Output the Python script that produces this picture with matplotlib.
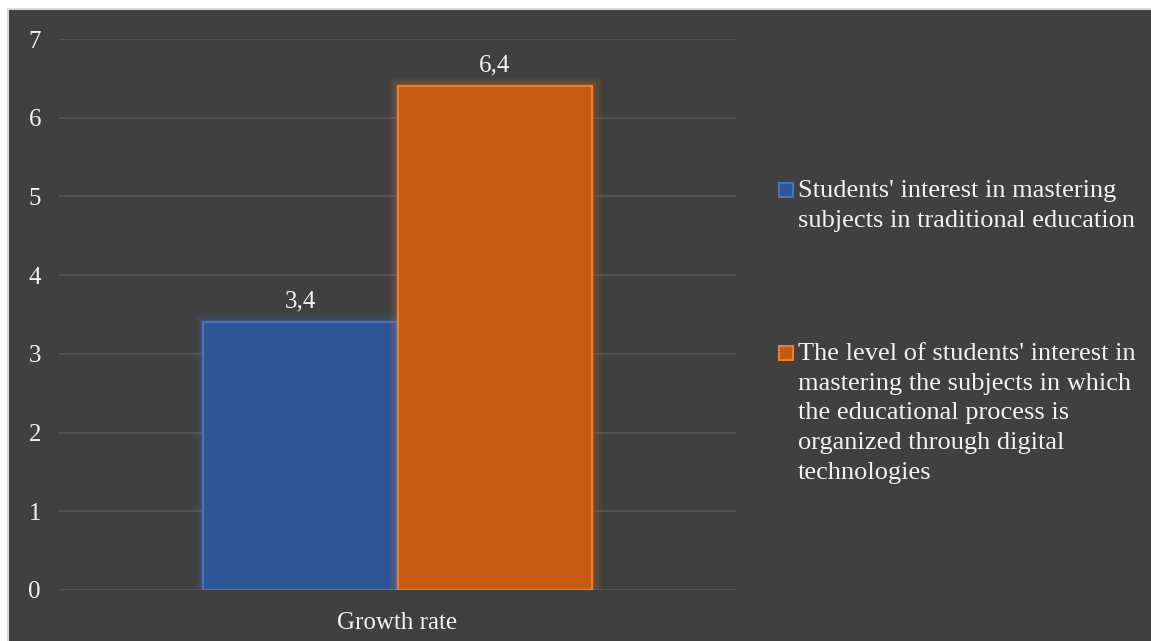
import matplotlib.pyplot as plt
import matplotlib.patheffects as pe
from matplotlib.patches import Rectangle

plt.rcParams['font.family'] = ['Liberation Serif', 'DejaVu Serif']

categories = ['Growth rate']
series_names = ["Students' interest in mastering\nsubjects in traditional education",
                "The level of students' interest in\nmastering the subjects in which\n"
                "the educational process is\norganized through digital\ntechnologies"]
values = [3.4, 6.4]
face_colors = ['#2F5597', '#C55A11']
edge_colors = ['#4472C4', '#ED7D31']

W, H = 1151, 641
fig = plt.figure(figsize=(W / 100, H / 100), dpi=100, facecolor='white')

# dark chart area with thin grey border
fig.patches.append(Rectangle((8 / W, -0.01), 1, (H - 9) / H + 0.01, transform=fig.transFigure,
                             facecolor='#404040', edgecolor='#D9D9D9', linewidth=1.5, zorder=-5))

ax = fig.add_axes([59 / W, (H - 590) / H, (736 - 59) / W, (590 - 39) / H])
ax.set_facecolor('none')

bar_w = 0.287
offsets = [-bar_w / 2, bar_w / 2]
for i, v in enumerate(values):
    b = ax.bar(0 + offsets[i], v, width=bar_w, color=face_colors[i], edgecolor=edge_colors[i],
               linewidth=1.5, zorder=3)
    # soft glow around the bars
    glow = [pe.withStroke(linewidth=lw, foreground=edge_colors[i], alpha=0.07)
            for lw in (12, 9, 6, 4)]
    for r in b:
        r.set_path_effects(glow + [pe.Normal()])
    ax.text(0 + offsets[i], v + 0.12, f'{v:.1f}'.replace('.', ','), ha='center', va='bottom',
            color='#F2F2F2', fontsize=18, zorder=4)

ax.set_xlim(-0.5, 0.5)
ax.set_ylim(0, 7)
ax.set_yticks(range(0, 8))
ax.set_xticks([0])
ax.set_xticklabels(categories)
ax.yaxis.grid(True, color='#565656', linewidth=1.2, zorder=0)
ax.tick_params(axis='both', length=0, colors='#F2F2F2', labelsize=18)
ax.tick_params(axis='y', pad=13)
ax.tick_params(axis='x', pad=16)
for s in ax.spines.values():
    s.set_visible(False)

# legend: square marker aligned with the first line of each entry
legend_tops = [190, 353]
for i, name in enumerate(series_names):
    yc = legend_tops[i]
    fig.patches.append(Rectangle((779 / W, 1 - (yc + 7) / H), 14 / W, 14 / H,
                                 transform=fig.transFigure, facecolor=face_colors[i],
                                 edgecolor=edge_colors[i], linewidth=1.5))
    fig.text(798 / W, 1 - (yc - 10) / H, name, ha='left', va='top', color='#F2F2F2',
             fontsize=19, linespacing=1.45)

fig.savefig('out.png', dpi=100, facecolor='white')
